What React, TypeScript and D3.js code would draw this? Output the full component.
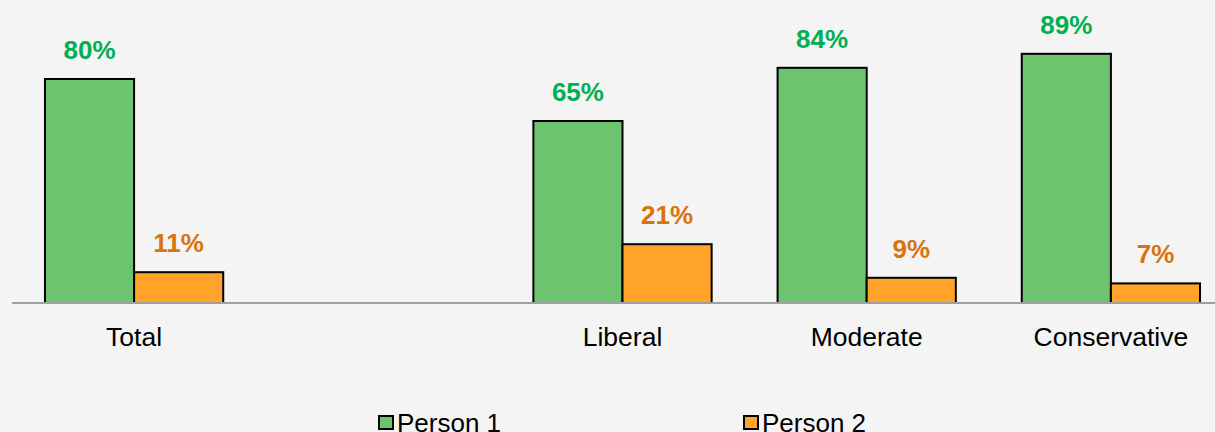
import React from "react";
import * as d3 from "d3";

const categories = ["Total", " ", "Liberal", "Moderate", "Conservative"];
const seriesNames = ["Person 1", "Person 2"];
const person1 = [80, null, 65, 84, 89];
const person2 = [11, null, 21, 9, 7];

const W = 1215;
const H = 432;
const FILLS = ["#6cc46e", "#ffa329"];
const LABEL_COLORS = ["#00b050", "#d9730d"];
const FONT = "Arial, 'Liberation Sans', Helvetica, sans-serif";

export default function App() {
  const x0 = d3
    .scaleBand<string>()
    .domain(categories)
    .range([12, 1233])
    .paddingInner(0.27)
    .paddingOuter(0.135);
  const x1 = d3
    .scaleBand<string>()
    .domain(seriesNames)
    .range([0, x0.bandwidth()])
    .padding(0);
  const y = d3.scaleLinear().domain([0, 100]).range([303, 23]);
  const series = [person1, person2];

  const legendItems = [
    { name: seriesNames[0], sx: 378, tx: 397 },
    { name: seriesNames[1], sx: 743, tx: 762 },
  ];

  return (
    <svg
      width={W}
      height={H}
      style={{ position: "fixed", top: 0, left: 0, display: "block" }}
      fontFamily={FONT}
    >
      <rect x={0} y={0} width={W} height={H} fill="#f4f4f4" />
      {series.map((vals, si) =>
        vals.map((v, ci) => {
          if (v == null) return null;
          const bx = (x0(categories[ci]) ?? 0) + (x1(seriesNames[si]) ?? 0);
          const bw = x1.bandwidth();
          return (
            <g key={`${si}-${ci}`}>
              <rect
                x={bx}
                y={y(v)}
                width={bw}
                height={y(0) - y(v)}
                fill={FILLS[si]}
                stroke="#000"
                strokeWidth={2}
              />
              <text
                x={bx + bw / 2}
                y={y(v) - 20}
                textAnchor="middle"
                fontSize={26}
                fontWeight="bold"
                fill={LABEL_COLORS[si]}
              >
                {v}%
              </text>
            </g>
          );
        })
      )}
      <line x1={12} x2={W} y1={303} y2={303} stroke="#a0a0a0" strokeWidth={2} />
      {categories.map((c) => (
        <text
          key={c}
          x={(x0(c) ?? 0) + x0.bandwidth() / 2}
          y={346}
          textAnchor="middle"
          fontSize={26.5}
          fill="#000"
        >
          {c.trim()}
        </text>
      ))}
      {legendItems.map((l, i) => (
        <g key={l.name}>
          <rect x={l.sx + 1} y={416} width={14} height={13} fill={FILLS[i]} stroke="#000" strokeWidth={2} />
          <text x={l.tx} y={432} fontSize={26} fill="#000">
            {l.name}
          </text>
        </g>
      ))}
    </svg>
  );
}
